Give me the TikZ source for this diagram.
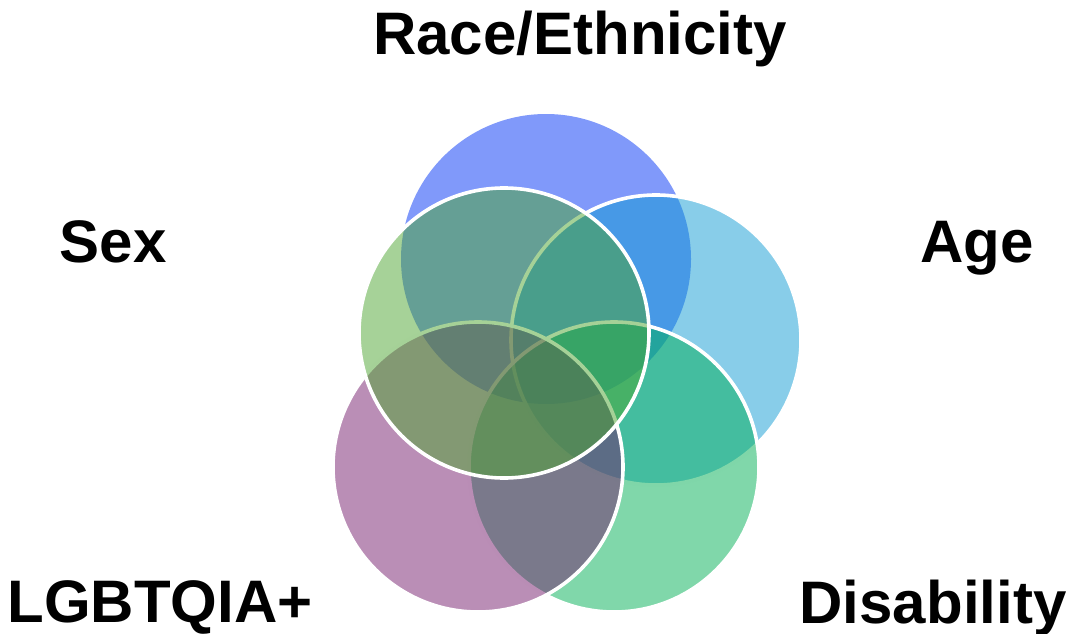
\documentclass[tikz,border=0pt]{standalone}
\usepackage{fontspec}
\setmainfont{Liberation Sans}
\usetikzlibrary{positioning}

\definecolor{raceblue}{RGB}{1,51,245}
\definecolor{ageblue}{RGB}{17,155,211}
\definecolor{disabgreen}{RGB}{1,175,85}
\definecolor{lgbtpurple}{RGB}{117,29,109}
\definecolor{sexgreen}{RGB}{77,165,49}

\tikzset{
    ring/.style={circle, minimum size=290pt, inner sep=0pt, fill opacity=0.5, draw opacity=1},
    rim/.style={draw=white, line width=3.6pt},
    tag/.style={anchor=base, inner sep=0pt, font=\fontsize{60}{60}\selectfont\bfseries}
}

\begin{document}
\begin{tikzpicture}[x=1pt, y=-1pt]

        \useasboundingbox (0,0) rectangle (1081,634);

        % circles
        \node[ring, fill=raceblue] (race) at (546,259) {};
        \node[ring, rim, fill=ageblue] (age) at (656,340) {};
        \node[ring, rim, fill=disabgreen] (disab) at (614,467) {};
        \node[ring, rim, fill=lgbtpurple] (lgbt) at (478,467) {};
        \node[ring, rim, fill=sexgreen] (sex) at (504,333) {};

        % labels
        \node[tag] (race label) at (580,55) {Race/Ethnicity};
        \node[tag] (sex label) at (113,262) {Sex};
        \node[tag] (age label) at (977,262) {Age};
        \node[tag] (lgbt label) at (160,622) {LGBTQIA+};
        \node[tag] (disab label) at (933,623) {Disability};

    \end{tikzpicture}
\end{document}
